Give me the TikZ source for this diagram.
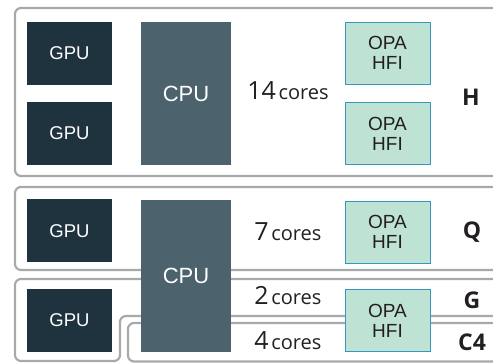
\documentclass[tikz,border=0pt]{standalone}
\usepackage{fontspec}
\setmainfont{Liberation Sans}
\newfontfamily\osans{Open Sans}
\definecolor{gpuc}{HTML}{1F333F}
\definecolor{cpuc}{HTML}{4C636E}
\definecolor{opafill}{HTML}{BEE3D4}
\definecolor{opaline}{HTML}{3497C0}
\definecolor{framec}{HTML}{A7A9AC}
\definecolor{txt}{HTML}{231F20}
\tikzset{
  frame/.style={draw=framec, line width=2.2pt, rounded corners=6pt},
  gpubox/.style={fill=gpuc, text=white, minimum width=85pt, minimum height=63pt, inner sep=0pt, font=\fontsize{18.5}{18.5}\selectfont},
  cpubox/.style={fill=cpuc, text=white, minimum width=90pt, inner sep=0pt, font=\fontsize{22}{22}\selectfont},
  opabox/.style={fill=opafill, draw=opaline, line width=0.9pt, text=txt, minimum width=85pt, minimum height=62pt, inner sep=0pt, align=center, font=\fontsize{19}{20}\selectfont},
  corelab/.style={anchor=base, text=txt, inner sep=0pt, font=\osans},
  netlab/.style={text=txt, inner sep=0pt, font=\osans\bfseries\fontsize{23}{23}\selectfont}
}
\newcommand{\corestxt}[1]{{\fontsize{25}{25}\selectfont #1} {\fontsize{20}{20}\selectfont cores}}
\begin{document}
\begin{tikzpicture}[x=1pt,y=-1pt]
\useasboundingbox (0,0) rectangle (493,363);
\clip (0,0) rectangle (493,363);
\fill[white] (0,0) rectangle (493,363);
% frames
\draw[frame] (15,8) rectangle (530,176);
\draw[frame] (15,187) rectangle (530,270);
\draw[frame] (530,279) -- (15,279) -- (15,361) -- (120,361) -- (120,316) -- (530,316);
\draw[frame] (128,323) rectangle (530,361.5);
% H
\node[gpubox] (g1) at (69.5,53.5) {GPU};
\node[gpubox] (g2) at (69.5,133.5) {GPU};
\node[cpubox, minimum height=143pt] (c1) at (186,93.5) {CPU};
\node[corelab] (k1) at (288,100) {\corestxt{14}};
\node[opabox] (o1) at (387.5,53) {OPA\\HFI};
\node[opabox] (o2) at (387.5,133.5) {OPA\\HFI};
\node[netlab] (lh) at (471,97) {H};
% Q
\node[gpubox] (g3) at (69.5,231) {GPU};
\node[corelab] (k2) at (288,241) {\corestxt{7}};
\node[opabox] (o3) at (387.5,232) {OPA\\HFI};
\node[netlab] (lq) at (472,232) {Q};
% G / C4
\node[gpubox] (g4) at (69.5,320.5) {GPU};
\node[cpubox, minimum height=152pt] (c2) at (186,276) {CPU};
\node[corelab] (k3) at (288,305) {\corestxt{2}};
\node[corelab] (k4) at (288,350) {\corestxt{4}};
\node[opabox] (o4) at (387.5,320.5) {OPA\\HFI};
\node[netlab] (lg) at (472,300) {G};
\node[netlab] (lc) at (472,342) {C4};
\end{tikzpicture}
\end{document}
